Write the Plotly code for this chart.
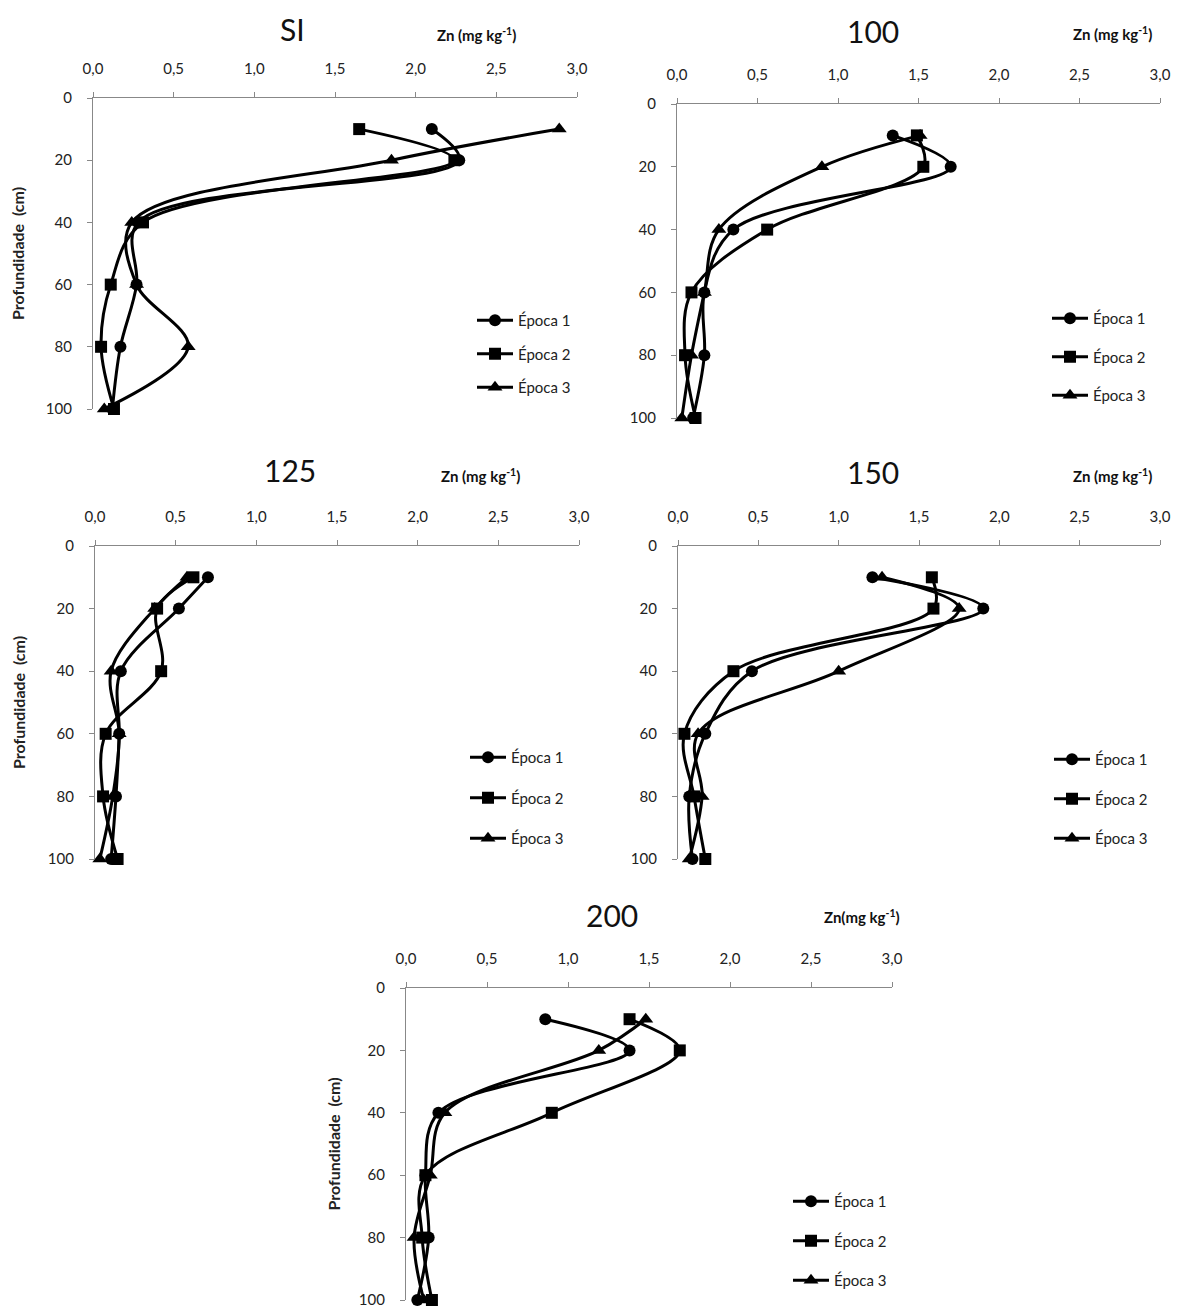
import plotly.graph_objects as go

# ---------------- data ----------------
depths = [10, 20, 40, 60, 80, 100]
series_names = ["Época 1", "Época 2", "Época 3"]
panel_titles = ["SI", "100", "125", "150", "200"]
x_tick_vals = [0.0, 0.5, 1.0, 1.5, 2.0, 2.5, 3.0]
y_tick_vals = [0, 20, 40, 60, 80, 100]

si_e1 = [2.10, 2.27, 0.28, 0.27, 0.17, 0.12]
si_e2 = [1.65, 2.24, 0.31, 0.11, 0.05, 0.13]
si_e3 = [2.89, 1.85, 0.24, 0.27, 0.59, 0.07]

d100_e1 = [1.34, 1.70, 0.35, 0.17, 0.17, 0.10]
d100_e2 = [1.49, 1.53, 0.56, 0.09, 0.05, 0.115]
d100_e3 = [1.51, 0.90, 0.26, 0.17, 0.09, 0.03]

d125_e1 = [0.70, 0.52, 0.16, 0.15, 0.13, 0.10]
d125_e2 = [0.61, 0.385, 0.41, 0.066, 0.05, 0.14]
d125_e3 = [0.57, 0.37, 0.10, 0.15, 0.11, 0.03]

d150_e1 = [1.21, 1.90, 0.46, 0.17, 0.07, 0.09]
d150_e2 = [1.58, 1.59, 0.345, 0.04, 0.10, 0.17]
d150_e3 = [1.27, 1.75, 1.00, 0.125, 0.15, 0.07]

d200_e1 = [0.86, 1.38, 0.20, 0.12, 0.14, 0.07]
d200_e2 = [1.38, 1.69, 0.90, 0.12, 0.10, 0.16]
d200_e3 = [1.48, 1.19, 0.24, 0.15, 0.05, 0.11]

panels = [
    [si_e1, si_e2, si_e3],
    [d100_e1, d100_e2, d100_e3],
    [d125_e1, d125_e2, d125_e3],
    [d150_e1, d150_e2, d150_e3],
    [d200_e1, d200_e2, d200_e3],
]
x_titles = ["Zn (mg kg<sup>-1</sup>)", "Zn (mg kg<sup>-1</sup>)", "Zn (mg kg<sup>-1</sup>)",
            "Zn (mg kg<sup>-1</sup>)", "Zn(mg kg<sup>-1</sup>)"]
show_y_title = [True, False, True, False, True]

# ---------------- layout geometry (target page pixels) ----------------
W, H = 1186, 1309
OFF = 8  # page body margin offset
# (x0px, x3px, y0px, y100px)
geom = [
    (93, 577, 98, 409),
    (677, 1160, 104, 418),
    (95, 579, 546, 859),
    (678, 1160, 546, 859),
    (406, 892, 988, 1300),
]
title_pos = [(292, 29), (873, 31), (290, 470), (873, 472), (612, 915)]
xtitle_pos = [(476, 35), (1112, 33), (480, 475), (1112, 475), (862, 916)]
legend_pos = [(472, 304), (1047, 302), (465, 741), (1049, 743), (788, 1185)]
legend_gaps = [11, 16, 18, 17, 17]
ytitle_standoff = [18, 0, 18, 0, 14]

symbols = ["circle", "square", "triangle-up"]
msizes = [12, 12, 13]


def px_x(p):
    return (p - OFF) / W


def px_y(p):
    return 1 - (p - OFF) / H


FONT = "Lato, 'Open Sans', sans-serif"
fig = go.Figure()

for i, data in enumerate(panels):
    suffix = "" if i == 0 else str(i + 1)
    for j, vals in enumerate(data):
        fig.add_trace(go.Scatter(
            x=vals, y=depths,
            mode="lines+markers",
            name=series_names[j],
            line=dict(color="black", width=3, shape="spline", smoothing=1.0),
            marker=dict(symbol=symbols[j], size=msizes[j], color="black"),
            xaxis="x" + suffix, yaxis="y" + suffix,
            legend="legend" + suffix,
            legendgroup=f"p{i}s{j}",
            cliponaxis=False,
        ))

layout = dict(
    width=W, height=H,
    margin=dict(l=0, r=0, t=0, b=0, autoexpand=False),
    paper_bgcolor="white", plot_bgcolor="white",
    separators=", ",
    font=dict(family=FONT, size=14, color="#222222"),
    showlegend=True,
)

annotations = []
for i, (x0, x3, y0, y100) in enumerate(geom):
    suffix = "" if i == 0 else str(i + 1)
    layout["xaxis" + suffix] = dict(
        domain=[px_x(x0), px_x(x3)], range=[0, 3], side="top",
        anchor="y" + suffix, tickvals=x_tick_vals, tickformat=".1f",
        showline=True, linecolor="#888888", linewidth=1.3,
        ticks="outside", ticklen=5, tickcolor="#888888",
        showgrid=False, zeroline=False, ticklabelstandoff=12,
        automargin=False,
        tickfont=dict(size=15, family=FONT, color="#222222"),
    )
    yax = dict(
        domain=[px_y(y100), px_y(y0)], range=[100, 0],
        anchor="x" + suffix, tickvals=y_tick_vals,
        showline=True, linecolor="#888888", linewidth=1.3,
        ticks="outside", ticklen=5, tickcolor="#888888",
        showgrid=False, zeroline=False, ticklabelstandoff=12,
        automargin=False,
        tickfont=dict(size=15, family=FONT, color="#222222"),
    )
    if show_y_title[i]:
        yax["title"] = dict(text="<b>Profundidade  (cm)</b>",
                            font=dict(size=16, family=FONT, color="#222222"),
                            standoff=ytitle_standoff[i])
    layout["yaxis" + suffix] = yax

    lx, ly = legend_pos[i]
    layout["legend" + suffix] = dict(
        x=px_x(lx), y=px_y(ly), xanchor="left", yanchor="top",
        bgcolor="rgba(0,0,0,0)", tracegroupgap=legend_gaps[i],
        font=dict(size=15, family=FONT, color="#222222"),
        itemwidth=36,
    )

    tx, ty = title_pos[i]
    annotations.append(dict(
        text=panel_titles[i], x=px_x(tx), y=px_y(ty), xref="paper", yref="paper",
        showarrow=False, xanchor="center", yanchor="middle",
        font=dict(size=30, family=FONT, color="#111111"),
    ))
    ax_, ay_ = xtitle_pos[i]
    annotations.append(dict(
        text="<b>" + x_titles[i] + "</b>", x=px_x(ax_), y=px_y(ay_), xref="paper", yref="paper",
        showarrow=False, xanchor="center", yanchor="middle",
        font=dict(size=15, family=FONT, color="#111111"),
    ))

layout["annotations"] = annotations
fig.update_layout(**layout)
fig.write_html("out.html")
